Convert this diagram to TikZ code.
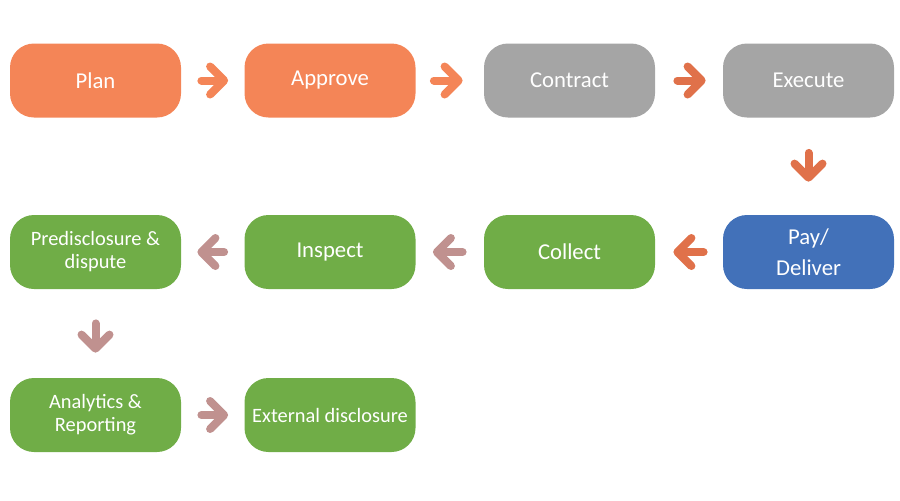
\documentclass[tikz,border=0pt]{standalone}
\usepackage{fontspec}
\setmainfont{Carlito}
\usetikzlibrary{arrows.meta}

\definecolor{planorange}{RGB}{244,133,87}
\definecolor{arroworange}{RGB}{224,113,74}
\definecolor{stepgrey}{RGB}{165,165,165}
\definecolor{stepblue}{RGB}{66,113,185}
\definecolor{stepgreen}{RGB}{112,173,71}
\definecolor{arrowmauve}{RGB}{192,145,143}

\begin{document}
\begin{tikzpicture}[x=0.5pt, y=-0.5pt]
		\tikzset{
			every node/.style={
				rectangle,
				rounded corners=12pt,
				minimum width=85.5pt,
				minimum height=37pt,
				align=center,
				text=white,
				inner sep=0pt,
				font=\fontsize{11.35}{15.5}\selectfont
			},
			orange/.style={
				fill=planorange
			},
			grey/.style={
				fill=stepgrey
			},
			blue/.style={
				fill=stepblue
			},
			green/.style={
				fill=stepgreen
			},
			small/.style={
				font=\fontsize{10.2}{11.5}\selectfont
			},
			line/.style={
				line width=4pt,
				line cap=round,
				-{Straight Barb[length=7pt, width=14pt, round]}
			},
			gap/.style 2 args={
				shorten <=#1,
				shorten >=#2
			}
		}
		\useasboundingbox (0,0) rectangle (900,500);

		\node[orange] (plan) at (95.5, 80.5)
			{Plan};
		\node[orange] (approve) at (330, 80.5)
			{Approve};
		\node[grey] (contract) at (569.5, 80.5)
			{Contract};
		\node[grey] (execute) at (808.5, 80.5)
			{Execute};

		\node[blue] (pay) at (808.5, 252)
			{Pay/\\ Deliver};
		\node[green] (collect) at (569.5, 252)
			{Collect};
		\node[green] (inspect) at (330, 252)
			{Inspect};
		\node[green, small] (predisc) at (95.5, 252)
			{Predisclosure \&\\ dispute};

		\node[green, small] (analytics) at (95.5, 415)
			{Analytics \&\\ Reporting};
		\node[green, small] (external) at (330, 415)
			{External disclosure};

		\draw[line, planorange, gap={10pt}{8pt}] (plan) -- (approve);
		\draw[line, planorange, gap={9pt}{10.5pt}] (approve) -- (contract);
		\draw[line, arroworange, gap={11pt}{8.5pt}] (contract) -- (execute);
		\draw[line, arroworange, gap={17.5pt}{16.5pt}] (execute) -- (pay);
		\draw[line, arroworange, gap={9.5pt}{9pt}] (pay) -- (collect);

		\draw[line, arrowmauve, gap={10.5pt}{8.5pt}] (collect) -- (inspect);
		\draw[line, arrowmauve, gap={10pt}{8pt}] (inspect) -- (predisc);
		\draw[line, arrowmauve, gap={17pt}{12.5pt}] (predisc) -- (analytics);
		\draw[line, arrowmauve, gap={10pt}{8pt}] (analytics) -- (external);

	\end{tikzpicture}
\end{document}
